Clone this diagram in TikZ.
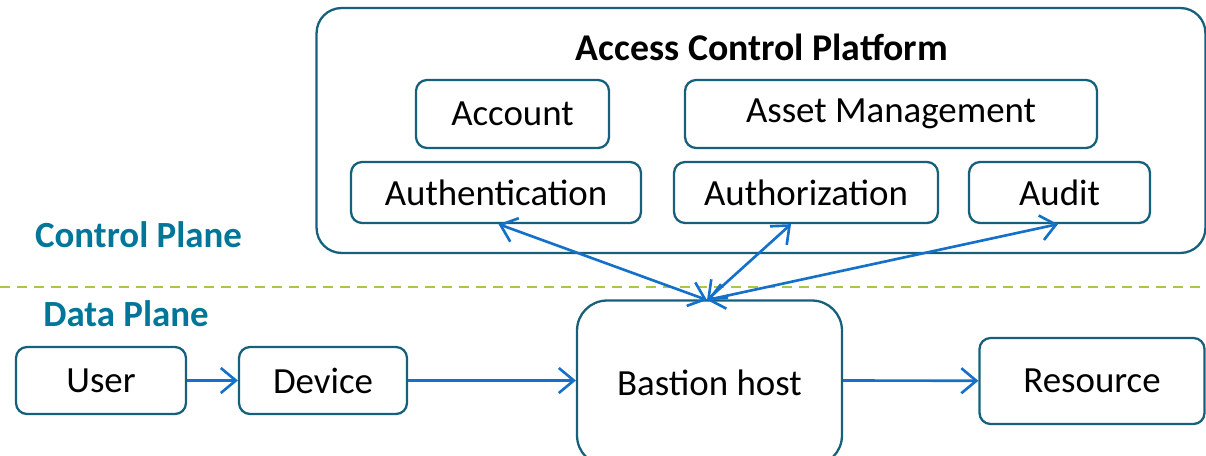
\documentclass[tikz,border=0pt]{standalone}
\usepackage{fontspec}
\setmainfont{Carlito}
\usetikzlibrary{arrows.meta}

\definecolor{boxline}{RGB}{22,96,124}
\definecolor{arrowblue}{RGB}{20,112,200}
\definecolor{planeteal}{RGB}{0,118,152}
\definecolor{dashgreen}{RGB}{170,198,70}

\tikzset{
    box/.style={draw=boxline, line width=1.3pt, rounded corners=0.22cm,
        align=center, inner sep=0pt, font=\fontsize{21}{24}\selectfont},
    flow/.style={draw=arrowblue, line width=1.5pt, -{Straight Barb[length=0.3cm,width=0.5cm]}},
    both/.style={flow, {Straight Barb[length=0.3cm,width=0.5cm]}-{Straight Barb[length=0.3cm,width=0.5cm]}},
    plane/.style={text=planeteal, font=\fontsize{21}{24}\selectfont\bfseries}
}

\begin{document}
\begin{tikzpicture}[x=0.02cm, y=-0.02cm]

    \useasboundingbox (0,0) rectangle (1206,456);

    % control plane
    \node[box,
        rounded corners=0.5cm,
        minimum width=17.78cm,
        minimum height=4.9cm] (platform) at (761,130.5) {};
    \node[font=\fontsize{21.5}{24}\selectfont\bfseries] (title) at (762,47) {Access Control Platform};

    \node[box, minimum width=3.86cm, minimum height=1.36cm] (account) at (512.5,114) {Account};
    \node[box, minimum width=8.24cm, minimum height=1.36cm] (asset) at (891,114) {Asset Management};
    \node[box, minimum width=5.8cm, minimum height=1.22cm] (authn) at (496,192.5) {Authentication};
    \node[box, minimum width=5.28cm, minimum height=1.22cm] (authz) at (806,192.5) {Authorization};
    \node[box, minimum width=3.62cm, minimum height=1.22cm] (audit) at (1059.5,192.5) {Audit};

    \node[plane] (cplane) at (138.5,235) {Control Plane};
    \draw[dashgreen, line width=1.3pt, dash pattern=on 0.2cm off 0.14cm] (0,287) -- (1206,287);
    \node[plane] (dplane) at (126,314) {Data Plane};

    % data plane
    \node[box, minimum width=3.4cm, minimum height=1.34cm] (user) at (101,380.5) {User};
    \node[box, minimum width=3.36cm, minimum height=1.34cm] (device) at (323,380.5) {Device};
    \node[box,
        rounded corners=0.6cm,
        minimum width=5.3cm,
        minimum height=3.3cm] (bastion) at (709.5,383) {Bastion host};
    \node[box, minimum width=4.5cm, minimum height=1.72cm] (resource) at (1092,381) {Resource};

    \coordinate (hub) at (707,300);

    \draw[flow] (user) -- (device);
    \draw[flow] (device) -- (device -| bastion.west);
    \draw[flow] (bastion.east |- device) -- (resource);

    \draw[both] (hub) -- ([xshift=0.05cm]authn.south);
    \draw[both] (hub) -- ([xshift=-0.3cm]authz.south);
    \draw[both] (hub) -- ([xshift=-0.03cm]audit.south);

\end{tikzpicture}
\end{document}
